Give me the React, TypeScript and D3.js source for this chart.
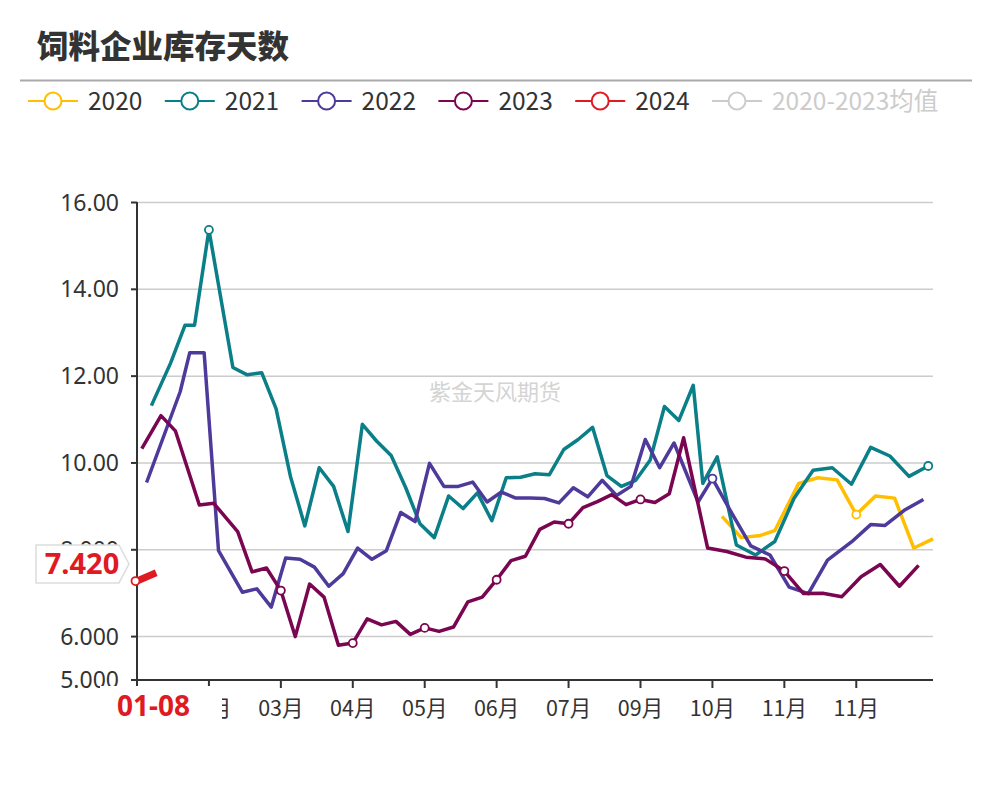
import React from 'react';
import * as d3 from 'd3';

// x positions are category indices on the shared date axis (0 = 01-08)
const s2020: [number, number][] = [
  [122, 8.77], [126, 8.28], [130, 8.33], [133, 8.44], [138, 9.53], [142, 9.66],
  [146, 9.61], [150, 8.81], [154, 9.24], [158, 9.19], [162, 8.04], [166, 8.25],
];

const s2021: [number, number][] = [
  [3, 11.32], [7, 12.3], [10, 13.17], [12, 13.17], [15, 15.37], [20, 12.2], [23, 12.03],
  [26, 12.08], [29, 11.25], [32, 9.69], [35, 8.55], [38, 9.89], [41, 9.46], [44, 8.42],
  [47, 10.89], [50, 10.5], [53, 10.17], [56, 9.44], [59, 8.6], [62, 8.28], [65, 9.24],
  [68, 8.95], [71, 9.31], [74, 8.67], [77, 9.66], [80, 9.67], [83, 9.75], [86, 9.73],
  [89, 10.31], [92, 10.54], [95, 10.82], [98, 9.71], [101, 9.46], [104, 9.6], [107, 10.06],
  [110, 11.3], [113, 10.98], [116, 11.79], [118, 9.53], [121, 10.14], [125, 8.11],
  [129, 7.88], [133, 8.19], [137, 9.18], [141, 9.83], [145, 9.89], [149, 9.51],
  [153, 10.36], [157, 10.16], [161, 9.69], [165, 9.93],
];

const s2022: [number, number][] = [
  [2, 9.55], [9, 11.64], [11, 12.54], [14, 12.54], [17, 7.98], [22, 7.02], [25, 7.1],
  [28, 6.68], [31, 7.81], [34, 7.78], [37, 7.6], [40, 7.16], [43, 7.45], [46, 8.04],
  [49, 7.78], [52, 7.98], [55, 8.86], [58, 8.65], [61, 9.99], [64, 9.46], [67, 9.46],
  [70, 9.56], [73, 9.1], [76, 9.33], [79, 9.19], [82, 9.19], [85, 9.18], [88, 9.08],
  [91, 9.43], [94, 9.22], [97, 9.6], [100, 9.25], [103, 9.46], [106, 10.54], [109, 9.89],
  [112, 10.46], [117, 9.1], [120, 9.64], [124, 8.85], [128, 8.09], [132, 7.88],
  [136, 7.14], [140, 6.99], [144, 7.76], [149, 8.18], [153, 8.58], [156, 8.56],
  [160, 8.91], [164, 9.16],
];

const s2023: [number, number][] = [
  [1, 10.33], [5, 11.09], [8, 10.74], [13, 9.03], [16, 9.07], [21, 8.42], [24, 7.49],
  [27, 7.58], [30, 7.06], [33, 6.0], [36, 7.21], [39, 6.91], [42, 5.8], [45, 5.85],
  [48, 6.41], [51, 6.27], [54, 6.35], [57, 6.05], [60, 6.2], [63, 6.12], [66, 6.22],
  [69, 6.8], [72, 6.91], [75, 7.31], [78, 7.75], [81, 7.85], [84, 8.47], [87, 8.64],
  [90, 8.6], [93, 8.97], [96, 9.11], [99, 9.27], [102, 9.04], [105, 9.16], [108, 9.09],
  [111, 9.29], [114, 10.58], [119, 8.04], [123, 7.96], [127, 7.83], [131, 7.79],
  [135, 7.51], [139, 6.99], [143, 7.0], [147, 6.92], [151, 7.38], [155, 7.66],
  [159, 7.16], [163, 7.64],
];

const s2024: [number, number][] = [[0, 7.28], [4, 7.47]];
const latest2024 = 7.42;
const pointerDate = '01-08';

const legendNames = ['2020', '2021', '2022', '2023', '2024', '2020-2023均值'];
const colors = ['#FFBF00', '#0A7F87', '#4D3A9A', '#7A0550', '#E01A22', '#CCCCCC'];
const tickLabels = ['01月', '02月', '03月', '04月', '05月', '06月', '07月', '09月', '10月', '11月', '11月'];
const yTicks = [5, 6, 8, 10, 12, 14, 16];

const FONT = '"Noto Sans", "Noto Sans CJK SC", sans-serif';
const CJK = '"Noto Sans CJK SC", sans-serif';

export default function App() {
  const x = d3.scaleLinear().domain([0, 166]).range([137, 933]);
  const y = d3.scaleLinear().domain([5, 16]).range([680, 202.5]);
  const line = d3.line<[number, number]>().x(d => x(d[0])).y(d => y(d[1]));
  const fmt = d3.format('.4r');

  const series = [s2020, s2021, s2022, s2023];

  // legend layout
  let lx = 28;
  const legend = legendNames.map((name, i) => {
    const w = name.split('').reduce((a, c) => a + (/[0-9]/.test(c) ? 13.7 : c === '-' ? 8 : 24), 0);
    const item = { name, x: lx, color: colors[i], dim: i === 5 };
    lx += 50 + 10 + w + 22;
    return item;
  });

  const labelY = y(latest2024) - 11;

  return (
    <svg width={992} height={800} style={{ position: 'absolute', left: 0, top: 0, background: '#fff' }}>
      <text x={37} y={58} fontFamily={CJK} fontWeight={900} fontSize={31.5} fill="#333">饲料企业库存天数</text>
      <line x1={20} x2={972} y1={80.5} y2={80.5} stroke="#aaa" strokeWidth={2} />

      {legend.map(l => (
        <g key={l.name} transform={`translate(${l.x},101)`}>
          <line x1={0} x2={50} y1={0} y2={0} stroke={l.color} strokeWidth={2} />
          <circle cx={25} cy={0} r={8.5} fill="#fff" stroke={l.color} strokeWidth={2} />
          <text x={60} y={9} fontFamily={CJK} fontSize={24.5} fill={l.dim ? '#ccc' : '#333'}>{l.name}</text>
        </g>
      ))}

      <text x={495} y={400} textAnchor="middle" fontFamily={CJK} fontSize={22} fill="#d4d4d4">紫金天风期货</text>

      {yTicks.filter(t => t !== 5).map(t => (
        <line key={t} x1={137} x2={933} y1={y(t)} y2={y(t)} stroke="#ccc" strokeWidth={1.5} />
      ))}
      {yTicks.map(t => (
        <g key={'yt' + t}>
          <line x1={131} x2={137} y1={y(t)} y2={y(t)} stroke="#333" strokeWidth={2} />
          <text x={119} y={y(t) + 8} textAnchor="end" fontFamily={FONT} fontSize={23} fill="#333">{fmt(t)}</text>
        </g>
      ))}
      <line x1={137} x2={137} y1={202} y2={681} stroke="#333" strokeWidth={2} />
      <line x1={136} x2={933} y1={680} y2={680} stroke="#333" strokeWidth={2} />

      {tickLabels.map((t, i) => (
        <g key={'xt' + i}>
          <line x1={x(i * 15)} x2={x(i * 15)} y1={680} y2={688} stroke="#333" strokeWidth={2} />
          {/* the first label sits under the date pointer label */}
          {i > 0 && (
            <text x={x(i * 15)} y={716} textAnchor="middle" fontFamily={CJK} fontSize={21.5} fill="#333">{t}</text>
          )}
        </g>
      ))}

      {series.map((s, i) => (
        <path key={'s' + i} d={line(s) || ''} fill="none" stroke={colors[i]} strokeWidth={3.5} strokeLinejoin="round" />
      ))}
      {series.map((s, i) =>
        s.filter(d => d[0] % 15 === 0).map(d => (
          <circle key={`c${i}-${d[0]}`} cx={x(d[0])} cy={y(d[1])} r={4} fill="#fff" stroke={colors[i]} strokeWidth={1.8} />
        ))
      )}

      <path d={line(s2024) || ''} fill="none" stroke={colors[4]} strokeWidth={7} />
      <circle cx={x(s2024[0][0]) - 1.5} cy={y(s2024[0][1])} r={4} fill="#fff" stroke={colors[4]} strokeWidth={1.8} />

      <path
        d={`M36,${labelY - 19} H119 L129,${labelY} L119,${labelY + 19} H36 Z`}
        fill="#fff" stroke="#ddd" strokeWidth={1.5}
      />
      <text x={82} y={labelY + 10} textAnchor="middle" fontFamily={FONT} fontWeight={700} fontSize={29} fill={colors[4]}>
        {latest2024.toFixed(3)}
      </text>

      <rect x={100} y={686} width={122} height={40} fill="#fff" />
      <text x={153.5} y={716} textAnchor="middle" fontFamily={FONT} fontWeight={700} fontSize={28} fill={colors[4]}>
        {pointerDate}
      </text>
    </svg>
  );
}
